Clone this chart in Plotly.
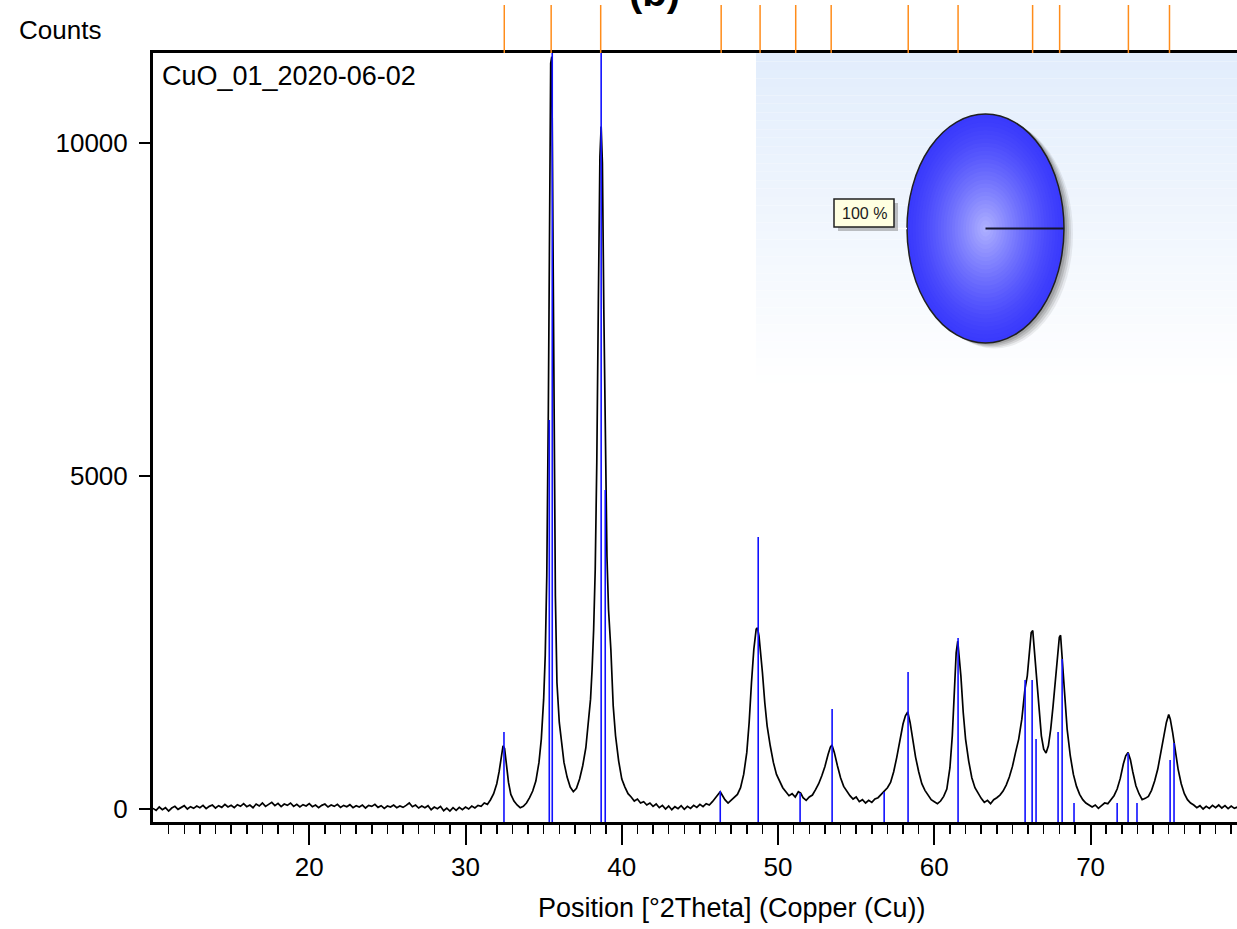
import plotly.graph_objects as go

# ---------------- data ----------------
two_theta = [
    10.0, 10.2, 10.4, 10.6, 10.8, 11.0, 11.2, 11.4, 11.6, 11.8, 12.0, 12.2, 12.4, 12.6, 12.8,
    13.0, 13.2, 13.4, 13.6, 13.8, 14.0, 14.2, 14.4, 14.6, 14.8, 15.0, 15.2, 15.4, 15.6, 15.8,
    16.0, 16.2, 16.4, 16.6, 16.8, 17.0, 17.2, 17.4, 17.6, 17.8, 18.0, 18.2, 18.4, 18.6, 18.8,
    19.0, 19.2, 19.4, 19.6, 19.8, 20.0, 20.2, 20.4, 20.6, 20.8, 21.0, 21.2, 21.4, 21.6, 21.8,
    22.0, 22.2, 22.4, 22.6, 22.8, 23.0, 23.2, 23.4, 23.6, 23.8, 24.0, 24.2, 24.4, 24.6, 24.8,
    25.0, 25.2, 25.4, 25.6, 25.8, 26.0, 26.2, 26.4, 26.6, 26.8, 27.0, 27.2, 27.4, 27.6, 27.8,
    28.0, 28.2, 28.4, 28.6, 28.8, 29.0, 29.2, 29.4, 29.6, 29.8, 30.0, 30.2, 30.4, 30.6, 30.8,
    31.0, 31.2, 31.4, 31.6, 31.8, 32.0, 32.15, 32.3, 32.4, 32.5, 32.6, 32.75, 32.9, 33.1, 33.3,
    33.5, 33.7, 33.9, 34.1, 34.3, 34.5, 34.7, 34.85, 35.0, 35.1, 35.2, 35.3, 35.38, 35.45, 35.52,
    35.58, 35.65, 35.75, 35.85, 36.0, 36.15, 36.3, 36.5, 36.7, 36.9, 37.1, 37.3, 37.5, 37.7, 37.85,
    38.0, 38.1, 38.2, 38.3, 38.4, 38.5, 38.6, 38.68, 38.76, 38.85, 38.95, 39.05, 39.15, 39.3, 39.45,
    39.6, 39.8, 40.0, 40.2, 40.4, 40.6, 40.8, 41.0, 41.2, 41.4, 41.6, 41.8, 42.0, 42.2, 42.4,
    42.6, 42.8, 43.0, 43.2, 43.4, 43.6, 43.8, 44.0, 44.2, 44.4, 44.6, 44.8, 45.0, 45.2, 45.4,
    45.6, 45.8, 46.0, 46.2, 46.3, 46.45, 46.6, 46.8, 47.0, 47.2, 47.4, 47.6, 47.8, 48.0, 48.15,
    48.3, 48.45, 48.6, 48.68, 48.78, 48.9, 49.0, 49.15, 49.3, 49.5, 49.7, 49.9, 50.1, 50.3, 50.5,
    50.7, 50.9, 51.1, 51.3, 51.45, 51.6, 51.8, 52.0, 52.2, 52.4, 52.6, 52.8, 53.0, 53.2, 53.35,
    53.45, 53.6, 53.8, 54.0, 54.2, 54.4, 54.6, 54.8, 55.0, 55.2, 55.4, 55.6, 55.8, 56.0, 56.2,
    56.4, 56.6, 56.8, 57.0, 57.2, 57.4, 57.6, 57.8, 58.0, 58.15, 58.3, 58.45, 58.6, 58.8, 59.0,
    59.2, 59.4, 59.6, 59.8, 60.0, 60.2, 60.4, 60.6, 60.8, 61.0, 61.15, 61.3, 61.4, 61.5, 61.6,
    61.7, 61.85, 62.0, 62.2, 62.4, 62.6, 62.8, 63.0, 63.2, 63.4, 63.6, 63.8, 64.0, 64.2, 64.4,
    64.6, 64.8, 65.0, 65.2, 65.4, 65.6, 65.8, 65.95, 66.1, 66.2, 66.3, 66.4, 66.55, 66.7, 66.85,
    67.0, 67.15, 67.3, 67.45, 67.6, 67.75, 67.9, 68.0, 68.08, 68.2, 68.35, 68.5, 68.7, 68.9, 69.1,
    69.3, 69.5, 69.7, 69.9, 70.1, 70.3, 70.5, 70.7, 70.9, 71.1, 71.3, 71.5, 71.7, 71.9, 72.1,
    72.25, 72.4, 72.55, 72.7, 72.9, 73.1, 73.3, 73.5, 73.7, 73.9, 74.1, 74.3, 74.5, 74.7, 74.85,
    75.0, 75.1, 75.25, 75.4, 75.6, 75.8, 76.0, 76.2, 76.4, 76.6, 76.8, 77.0, 77.2, 77.4, 77.6,
    77.8, 78.0, 78.2, 78.4, 78.6, 78.8, 79.0, 79.2, 79.4,
]
counts = [
    10, -20, 30, -10, 20, -30, 15, 40, -5, 25, 50, 0, 35, 10, 45,
    20, 55, 5, 40, 60, 15, 50, 25, 70, 30, 55, 20, 65, 40, 80,
    35, 60, 20, 75, 45, 90, 40, 70, 100, 50, 85, 35, 75, 55, 90,
    40, 70, 30, 65, 45, 80, 35, 60, 20, 55, 75, 30, 60, 40, 70,
    25, 55, 35, 65, 20, 50, 30, 60, 15, 55, 40, 70, 25, 50, 10,
    45, 30, 60, 20, 45, 25, 55, 90, 35, 60, 15, 45, 20, 50, -10,
    30, 5, 40, -25, 15, -30, 20, -20, 25, -10, 30, 0, 45, 15, 55,
    40, 90, 70, 140, 230, 380, 560, 820, 950, 910, 680, 400, 220, 120, 60,
    20, 40, 90, 170, 270, 420, 700, 1050, 1650, 2300, 3500, 6000, 9500, 11200, 11300,
    9300, 5500, 3200, 1900, 1300, 1000, 700, 480, 330, 260, 310, 450, 650, 920, 1250,
    1650, 2100, 2700, 3600, 5200, 7600, 9800, 10250, 9700, 7500, 5200, 3800, 3000, 2400, 1550,
    1100, 720, 450, 330, 230, 180, 120, 150, 90, 110, 60, 90, 40, 75, 20,
    55, 0, 45, -10, 35, 5, 50, -5, 40, 10, 55, 25, 70, 35, 80,
    60, 110, 170, 230, 260, 200, 140, 90, 130, 170, 220, 320, 520, 850, 1300,
    1900, 2400, 2700, 2720, 2600, 2350, 2050, 1600, 1250, 950, 700, 520, 420, 320, 260,
    200, 230, 180, 260, 240, 170, 130, 180, 210, 290, 380, 500, 640, 820, 930,
    960, 850, 650, 470, 340, 260, 200, 150, 180, 110, 140, 90, 130, 100, 150,
    170, 220, 260, 320, 400, 560, 780, 1050, 1280, 1400, 1460, 1300, 1080, 780, 560,
    380, 280, 200, 140, 110, 80, 120, 190, 300, 620, 1100, 1850, 2350, 2520, 2300,
    2000, 1450, 1050, 720, 470, 320, 230, 160, 100, 130, 80, 140, 170, 210, 270,
    360, 480, 640, 850, 1050, 1350, 1800, 2000, 2400, 2650, 2680, 2400, 1900, 1450, 1100,
    900, 840, 950, 1200, 1550, 1950, 2350, 2580, 2610, 2250, 1700, 1200, 800, 520, 340,
    220, 140, 90, 60, 30, 60, 10, 50, 90, 80, 150, 200, 300, 460, 680,
    800, 850, 740, 560, 350, 230, 140, 160, 190, 280, 420, 600, 850, 1100, 1300,
    1420, 1350, 1150, 880, 600, 380, 230, 140, 90, 60, 20, 50, 0, 40, 10,
    55, 20, 60, 15, 50, 5, 45, 10, 30,
]

# reference pattern sticks (blue)
ref_pos = [32.46, 35.36, 35.55, 38.68, 38.94, 46.30, 48.73, 51.41, 53.46, 56.79, 58.32, 61.52,
           65.81, 66.26, 66.51, 67.92, 68.18, 68.94, 71.70, 72.40, 72.97, 75.09, 75.34]
ref_int = [1157, 5843, 12000, 12000, 4790, 270, 4085, 240, 1502, 255, 2058, 2568,
           1938, 1938, 1051, 1157, 2253, 90, 90, 841, 90, 736, 991]

# peak list markers (orange, above the plot)
peak_pos = [32.48, 35.48, 38.65, 46.36, 48.85, 51.13, 53.40, 58.33, 61.52, 66.29, 68.02, 72.42, 75.05]

x_tick_vals = [20, 30, 40, 50, 60, 70]
x_minor_vals = [v for v in range(11, 80) if v % 10 != 0]
y_tick_vals = [0, 5000, 10000]
x_range = [10, 79.37]
y_range = [-195, 11355]

sample_name = "CuO_01_2020-06-02"
phase_share = "100 %"

# ---------------- layout helpers ----------------
W, H = 1237, 929
L, R, T, B = 153, 0, 53, 107
PW, PH = W - L - R, H - T - B


def px(x):
    return (x - L) / PW


def py(y):
    return (H - B - y) / PH


FONT = "Liberation Sans, Arial, sans-serif"

fig = go.Figure()

# measured pattern
fig.add_trace(go.Scatter(x=two_theta, y=counts, mode="lines",
                         line=dict(color="black", width=1.7), hoverinfo="skip", showlegend=False))

# reference sticks
sx, sy = [], []
for p, h in zip(ref_pos, ref_int):
    sx += [p, p, None]
    sy += [y_range[0], h, None]
fig.add_trace(go.Scatter(x=sx, y=sy, mode="lines",
                         line=dict(color="#1010ff", width=1.6), hoverinfo="skip", showlegend=False))

shapes = []

# light blue gradient panel (upper right)
gx0, gy_top, gy_bot = 756, 53, 392
n_bands = 40
c_top = (226, 237, 252)
for i in range(n_bands):
    t = i / (n_bands - 1)
    col = tuple(int(round(c_top[k] + (255 - c_top[k]) * t)) for k in range(3))
    y0 = gy_top + (gy_bot - gy_top) * i / n_bands
    y1 = gy_top + (gy_bot - gy_top) * (i + 1) / n_bands
    shapes.append(dict(type="rect", xref="paper", yref="paper", layer="below",
                       x0=px(gx0), x1=1.0, y0=py(y1), y1=py(y0),
                       fillcolor="rgb(%d,%d,%d)" % col, line=dict(width=0)))

# peak list markers above the frame
for p in peak_pos:
    shapes.append(dict(type="line", xref="x", yref="paper", x0=p, x1=p,
                       y0=1.0, y1=py(5), line=dict(color="#ff8c1a", width=1.5)))

# pie (single 100% slice) drawn as a shaded ellipse
cx, cy, rx, ry = 985.5, 228.5, 78.5, 114.5
for off, op in [(9, 0.10), (7, 0.15), (5, 0.2), (3, 0.25)]:
    shapes.append(dict(type="circle", xref="paper", yref="paper",
                       x0=px(cx - rx + off), x1=px(cx + rx + off),
                       y0=py(cy + ry + off * 0.6), y1=py(cy - ry + off * 0.6),
                       fillcolor="rgba(90,90,90,%.2f)" % op, line=dict(width=0)))
n_rings = 28
c_out = (58, 58, 252)
c_in = (178, 180, 255)
for i in range(n_rings):
    s = 1 - i / n_rings
    t = (1 - s) ** 1.3
    col = tuple(int(round(c_out[k] + (c_in[k] - c_out[k]) * t)) for k in range(3))
    shapes.append(dict(type="circle", xref="paper", yref="paper",
                       x0=px(cx - rx * s), x1=px(cx + rx * s),
                       y0=py(cy + ry * s), y1=py(cy - ry * s),
                       fillcolor="rgb(%d,%d,%d)" % col,
                       line=dict(width=1.5 if i == 0 else 0, color="#202020")))
shapes.append(dict(type="line", xref="paper", yref="paper",
                   x0=px(cx), x1=px(cx + rx), y0=py(cy), y1=py(cy),
                   line=dict(color="#151530", width=2)))
shapes.append(dict(type="line", xref="paper", yref="paper",
                   x0=px(894), x1=px(cx - rx), y0=py(cy), y1=py(cy),
                   line=dict(color="white", width=1.5)))
# label box with shadow
bx0, bx1, by0, by1 = 834, 894, 199, 227
shapes.append(dict(type="rect", xref="paper", yref="paper",
                   x0=px(bx0 + 4), x1=px(bx1 + 4), y0=py(by1 + 4), y1=py(by0 + 4),
                   fillcolor="rgba(120,120,120,0.45)", line=dict(width=0)))
shapes.append(dict(type="rect", xref="paper", yref="paper",
                   x0=px(bx0), x1=px(bx1), y0=py(by1), y1=py(by0),
                   fillcolor="#ffffe1", line=dict(color="#202020", width=1.5)))

annotations = [
    dict(text=phase_share, xref="paper", yref="paper", x=px((bx0 + bx1) / 2), y=py((by0 + by1) / 2),
         xanchor="center", yanchor="middle", showarrow=False,
         font=dict(family=FONT, size=16, color="#202020")),
    dict(text=sample_name, xref="paper", yref="paper", x=px(160), y=py(76),
         xanchor="left", yanchor="middle", showarrow=False,
         font=dict(family=FONT, size=27, color="black")),
    dict(text="Counts", xref="paper", yref="paper", x=px(17), y=py(30),
         xanchor="left", yanchor="middle", showarrow=False,
         font=dict(family=FONT, size=26, color="black")),
    dict(text="Position [°2Theta] (Copper (Cu))", xref="paper", yref="paper",
         x=px(731), y=py(908), xanchor="center", yanchor="middle", showarrow=False,
         font=dict(family=FONT, size=27, color="black")),
    dict(text="<b>(b)</b>", xref="paper", yref="paper", x=px(654), y=py(16),
         xanchor="center", yanchor="bottom", showarrow=False,
         font=dict(family=FONT, size=40, color="black")),
]

fig.update_layout(
    width=W, height=H,
    margin=dict(l=L, r=R, t=T, b=B, pad=0),
    paper_bgcolor="white", plot_bgcolor="white",
    showlegend=False,
    shapes=shapes, annotations=annotations,
    font=dict(family=FONT, size=26, color="black"),
    xaxis=dict(range=x_range, showgrid=False, zeroline=False,
               showline=True, linecolor="black", linewidth=3, mirror=True,
               ticks="outside", ticklen=20, tickwidth=2, tickcolor="black",
               tickmode="array", tickvals=x_tick_vals, ticktext=[str(v) for v in x_tick_vals],
               ticklabelstandoff=0,
               tickfont=dict(family=FONT, size=26, color="black"),
               minor=dict(ticks="outside", ticklen=9, tickwidth=1.5, tickcolor="black",
                          tickmode="array", tickvals=x_minor_vals)),
    yaxis=dict(range=y_range, showgrid=False, zeroline=False,
               showline=True, linecolor="black", linewidth=3, mirror=False,
               ticks="outside", ticklen=11, tickwidth=1.5, tickcolor="black",
               tickvals=y_tick_vals, ticktext=[str(v) for v in y_tick_vals],
               ticklabelstandoff=6,
               tickfont=dict(family=FONT, size=26, color="black")),
)

fig.write_html("out.html",
               config={"displayModeBar": False, "staticPlot": True},
               post_script="document.body.style.margin='0px';document.body.style.overflow='hidden';")
